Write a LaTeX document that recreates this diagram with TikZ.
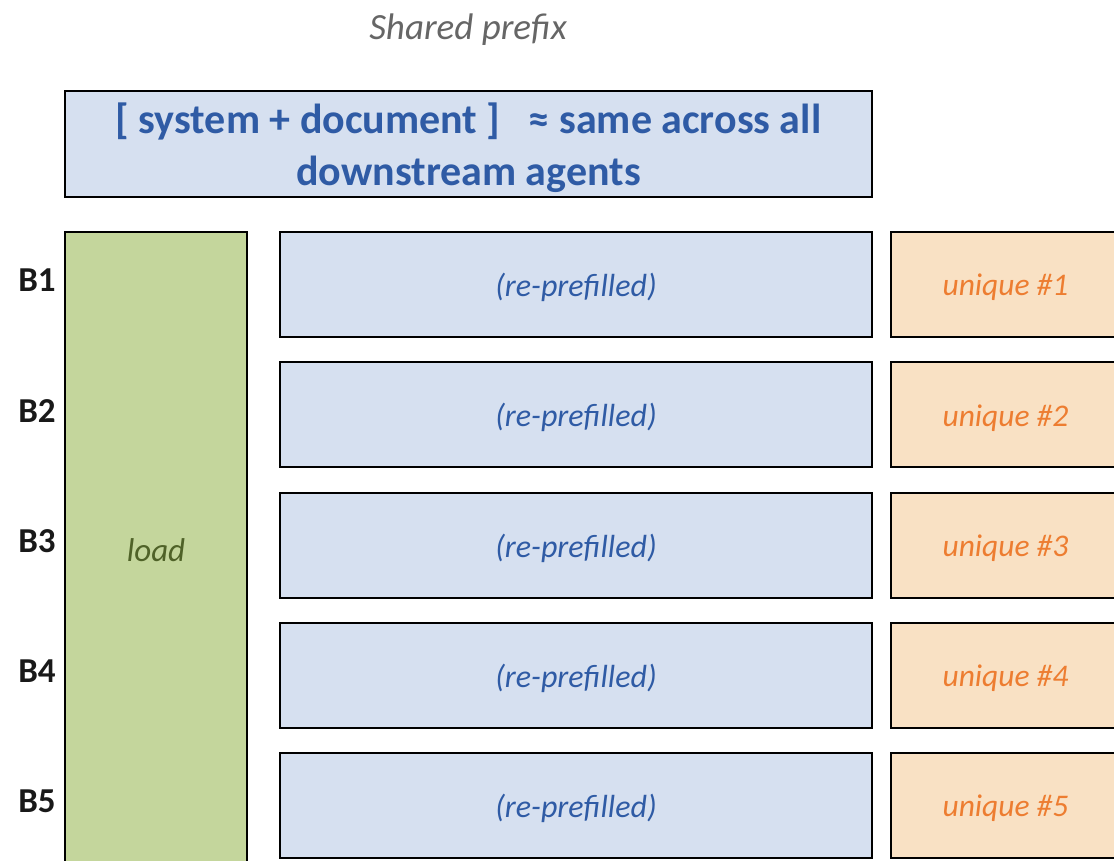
\documentclass[tikz,border=0pt]{standalone}
\usepackage{fontspec}
\setmainfont{Carlito}
\usepackage{tikz}
\usetikzlibrary{positioning}
\definecolor{PrefixFill}{HTML}{D6E0F0}
\definecolor{PrefixText}{HTML}{2F5BA5}
\definecolor{LoadFill}{HTML}{C4D69C}
\definecolor{LoadText}{HTML}{4F6228}
\definecolor{UniqueFill}{HTML}{F9E1C4}
\definecolor{UniqueText}{HTML}{ED7D31}
\definecolor{NoteGray}{HTML}{666666}

\begin{document}
\begin{tikzpicture}[x=1pt,y=-1pt,
  box/.style={draw=black,line width=2pt,inner sep=0pt,outer sep=0pt,
    minimum height=105pt},
  rowlabel/.style={font=\fontsize{35}{38}\selectfont\bfseries,text=black!90},
  boxtext/.style={font=\fontsize{32}{36}\selectfont\itshape}]
  \useasboundingbox (0,0) rectangle (1114,860);
  \clip (0,0) rectangle (1114,860);

  % header
  \node[text=NoteGray,font=\fontsize{37}{40}\selectfont\itshape] (title) at (468,30) {Shared prefix};
  \node[box,fill=PrefixFill,minimum width=807pt,minimum height=106pt] (prefix) at (468.5,144) {};
  \node[text=PrefixText,align=center,font=\fontsize{42}{52}\selectfont\bfseries]
    (prefixtxt) at (468.5,148) {[ system + document ]\ \ \ ≈ same across all\\downstream agents};

  % loaded once, runs down past the bottom edge
  \node[box,fill=LoadFill,minimum width=182pt,minimum height=660pt] (load) at (156,562) {};
  \node[text=LoadText,font=\fontsize{33}{36}\selectfont\itshape] (loadtxt) at (156,550) {load};

  % one row per branch
  \foreach \i in {1,...,5} {
    \pgfmathsetmacro{\yc}{284.5+(\i-1)*130.25}
    \node[rowlabel] (B\i) at (37,\yc-4) {B\i};
    \node[box,fill=PrefixFill,minimum width=592pt] (re\i) at (576,\yc) {};
    \node[boxtext,text=PrefixText] (retxt\i) at (576,\yc+3) {(re-prefilled)};
    \node[box,fill=UniqueFill,minimum width=229pt] (uniq\i) at (1005.5,\yc) {};
    \node[text=UniqueText,font=\fontsize{31.5}{36}\selectfont\itshape]
      (uniqtxt\i) at (1005.5,\yc+3) {unique \#\i};
  }
\end{tikzpicture}
\end{document}
